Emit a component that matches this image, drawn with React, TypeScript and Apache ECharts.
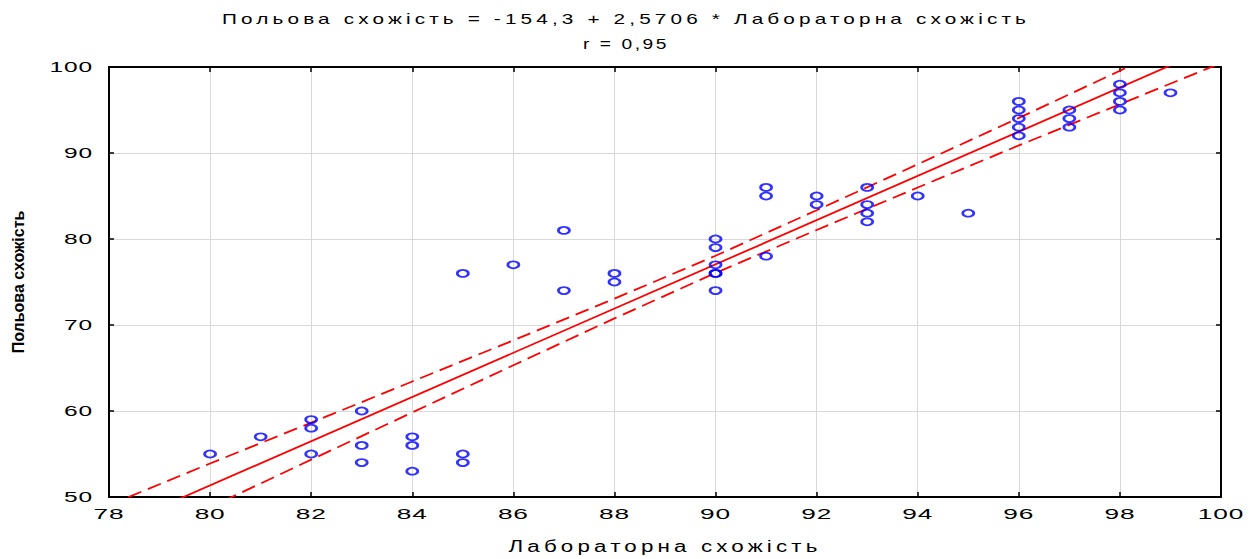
import React, { useEffect, useRef } from "react";
import * as echarts from "echarts";

// ---- data ----
const LAB_X = [
  80, 81, 82, 82, 82, 83, 83, 83, 84, 84, 84, 85, 85, 85, 86, 87, 87, 88, 88,
  90, 90, 90, 90, 90, 90, 91, 91, 91, 92, 92, 93, 93, 93, 93, 94, 95,
  96, 96, 96, 96, 96, 97, 97, 97, 98, 98, 98, 98, 99,
];
const FIELD_Y = [
  55, 57, 59, 58, 55, 60, 56, 54, 57, 56, 53, 76, 55, 54, 77, 81, 74, 76, 75,
  80, 79, 77, 76, 76, 74, 86, 85, 78, 85, 84, 86, 84, 83, 82, 85, 83,
  96, 95, 94, 93, 92, 95, 94, 93, 98, 97, 96, 95, 97,
];

// regression from the title
const INTERCEPT = -154.3;
const SLOPE = 2.5706;
const LINE_X = [78, 100];

// confidence band half-widths
const BAND_X = [78, 80, 82, 84, 86, 88, 90, 92, 94, 96, 98, 100];
const BAND_HALF = [2.85, 2.55, 2.15, 1.8, 1.45, 1.15, 1.0, 1.15, 1.35, 1.6, 1.95, 2.3];

const X_MIN = 78, X_MAX = 100, X_STEP = 2;
const Y_MIN = 50, Y_MAX = 100, Y_STEP = 10;

const TITLE = "Польова схожість = -154,3 + 2,5706 * Лабораторна схожість";
const SUBTITLE = "r = 0,95";
const X_NAME = "Лабораторна схожість";
const Y_NAME = "Польова схожість";

const CSS = `
#chart-box text[style*="zzTA"] { letter-spacing: 3px; }
#chart-box text[style*="zzTB"] { letter-spacing: 2px; }
#chart-box text[style*="zzXN"] { letter-spacing: 3px; }
#chart-box text[style*="zzXL"] { letter-spacing: 0.5px; }
#chart-box text[style*="zzYL"] { letter-spacing: 0.5px; }
`;

// horizontal text widening (the reference's glyphs are stretched)
const STRETCH: Record<string, { len?: number; f?: number }> = {
  zzTA: { len: 808 },
  zzTB: { len: 86 },
  zzXN: { len: 313 },
  zzXL: { f: 1.75 },
  zzYL: { f: 1.75 },
};

export default function App() {
  const ref = useRef<HTMLDivElement>(null);

  useEffect(() => {
    if (!ref.current) return;
    const chart = echarts.init(ref.current, null, { renderer: "svg" });

    const axisLine = { show: true, onZero: false, lineStyle: { color: "#000", width: 2 } };
    const axisTick = { show: true, inside: true, length: 5, lineStyle: { color: "#000", width: 1.5 } };
    const split = { show: true, lineStyle: { color: "#d9d9d9", width: 1 } };

    const lineY = (x: number) => INTERCEPT + SLOPE * x;

    chart.setOption({
      animation: false,
      backgroundColor: "#fff",
      title: [
        {
          text: TITLE,
          left: "center",
          top: 6,
          textStyle: { fontSize: 15, fontWeight: "normal", color: "#000", fontFamily: "Liberation Sans, zzTA" },
        },
        {
          text: SUBTITLE,
          left: "center",
          top: 31,
          textStyle: { fontSize: 15, fontWeight: "normal", color: "#000", fontFamily: "Liberation Sans, zzTB" },
        },
      ],
      grid: { left: 109, right: 31, top: 67, bottom: 61, containLabel: false },
      xAxis: [
        {
          type: "value",
          position: "bottom",
          min: X_MIN, max: X_MAX, interval: X_STEP,
          axisLine, axisTick, splitLine: split,
          axisLabel: { margin: 9, color: "#000", fontSize: 15, fontFamily: "Liberation Sans, zzXL" },
          name: X_NAME,
          nameLocation: "middle",
          nameGap: 41,
          nameTextStyle: { fontSize: 16, color: "#000", fontFamily: "Liberation Sans, zzXN" },
        },
        {
          type: "value",
          position: "top",
          min: X_MIN, max: X_MAX, interval: X_STEP,
          axisLine, axisTick, splitLine: { show: false },
          axisLabel: { show: false },
        },
      ],
      yAxis: [
        {
          type: "value",
          position: "left",
          min: Y_MIN, max: Y_MAX, interval: Y_STEP,
          axisLine, axisTick, splitLine: split,
          axisLabel: { margin: 16, color: "#000", fontSize: 14, fontFamily: "Liberation Sans, zzYL" },
          name: Y_NAME,
          nameLocation: "middle",
          nameGap: 83,
          nameTextStyle: { fontSize: 16, fontWeight: "bold", color: "#000", fontFamily: "Liberation Sans, zzYN" },
        },
        {
          type: "value",
          position: "right",
          min: Y_MIN, max: Y_MAX, interval: Y_STEP,
          axisLine, axisTick, splitLine: { show: false },
          axisLabel: { show: false },
        },
      ],
      series: [
        {
          type: "line",
          data: LINE_X.map((x) => [x, lineY(x)]),
          symbol: "none",
          clip: true,
          lineStyle: { color: "#ff0000", width: 1.8 },
          z: 2,
        },
        {
          type: "line",
          data: BAND_X.map((x, i) => [x, lineY(x) + BAND_HALF[i]]),
          symbol: "none",
          clip: true,
          lineStyle: { color: "#ff0000", width: 1.8, type: [14, 7] },
          z: 2,
        },
        {
          type: "line",
          data: BAND_X.map((x, i) => [x, lineY(x) - BAND_HALF[i]]),
          symbol: "none",
          clip: true,
          lineStyle: { color: "#ff0000", width: 1.8, type: [14, 7] },
          z: 2,
        },
        {
          type: "scatter",
          data: LAB_X.map((x, i) => [x, FIELD_Y[i]]),
          symbol: "circle",
          symbolSize: [11, 7],
          itemStyle: { color: "transparent", borderColor: "#0000ff", borderWidth: 2.2 },
          z: 3,
        },
      ],
    });

    const stretch = () => {
      const root = ref.current;
      if (!root) return;
      root.querySelectorAll("text").forEach((node) => {
        const t = node as SVGTextElement;
        if (t.getAttribute("data-st") === "1") return;
        const st = t.getAttribute("style") || "";
        for (const key of Object.keys(STRETCH)) {
          if (st.indexOf(key) >= 0) {
            const natural = t.getComputedTextLength();
            if (!natural) return;
            const cfg = STRETCH[key];
            const target = cfg.len != null ? cfg.len : natural * (cfg.f || 1);
            t.setAttribute("textLength", String(target));
            t.setAttribute("lengthAdjust", "spacingAndGlyphs");
            t.setAttribute("data-st", "1");
            return;
          }
        }
      });
    };
    chart.on("finished", stretch);
    stretch();
    const timer = setTimeout(stretch, 0);

    return () => {
      clearTimeout(timer);
      chart.dispose();
    };
  }, []);

  return (
    <>
      <style>{CSS}</style>
      <div
        id="chart-box"
        ref={ref}
        style={{ position: "absolute", left: 0, top: 0, width: 1252, height: 559 }}
      />
    </>
  );
}
